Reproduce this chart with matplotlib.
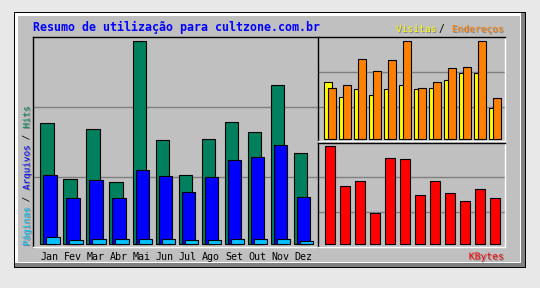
import numpy as np
import matplotlib
matplotlib.use("Agg")
import matplotlib.pyplot as plt
from matplotlib.patches import Rectangle
import matplotlib.patheffects as pe

# ---- data (relative units) ----
months = ["Jan", "Fev", "Mar", "Abr", "Mai", "Jun", "Jul", "Ago", "Set", "Out", "Nov", "Dez"]
hits = [121, 65, 115, 62, 203, 104, 69, 105, 122, 112, 159, 91]
files = [69, 46, 64, 46, 74, 68, 52, 67, 84, 87, 99, 47]
pages = [7, 4, 5, 5, 5, 5, 4, 4, 5, 5, 5, 3]
visits = [57, 42, 50, 44, 50, 54, 50, 51, 59, 66, 66, 31]
sites = [51, 54, 80, 68, 79, 98, 51, 57, 71, 72, 98, 41]
kbytes = [98, 58, 63, 31, 86, 85, 49, 63, 51, 43, 55, 46]

title = "Resumo de utilização para cultzone.com.br"

W, H = 540, 288
fig = plt.figure(figsize=(W / 100, H / 100), dpi=100)
fig.patch.set_facecolor("#e8e8e8")

MONO = "DejaVu Sans Mono"
GRAY = "#c0c0c0"
DARK = "#808080"


def rect(x0, y0, x1, y1, color):
    fig.add_artist(Rectangle((x0 / W, 1 - y1 / H), (x1 - x0) / W, (y1 - y0) / H,
                             transform=fig.transFigure, facecolor=color,
                             edgecolor="none", zorder=0))


# frame
rect(14, 12, 526, 268, "black")
rect(15, 13, 525, 267, DARK)
rect(15, 13, 521, 263, "white")
rect(17.5, 15.5, 520, 262, GRAY)


def panel(x0, y0, x1, y1):
    ax = fig.add_axes([x0 / W, 1 - y1 / H, (x1 - x0) / W, (y1 - y0) / H])
    ax.set_facecolor(GRAY)
    for s in ("top", "left"):
        ax.spines[s].set_color("black")
        ax.spines[s].set_linewidth(1.0)
    for s in ("bottom", "right"):
        ax.spines[s].set_color("white")
        ax.spines[s].set_linewidth(1.0)
    ax.set_xticks([])
    ax.set_yticks([])
    return ax


x = np.arange(len(months))
edge = dict(edgecolor="black", linewidth=0.8, zorder=2)

# main panel
ax = panel(33.3, 37, 318.5, 246.7)
for g in (67.3, 137):
    ax.axhline(g, color=DARK, linewidth=1.0, zorder=0.5)
ax.bar(x - 0.13, hits, width=0.58, color="#00805c", **edge)
ax.bar(x, files, width=0.58, color="#0000ff", **edge)
ax.bar(x + 0.13, pages, width=0.58, color="#00c0ff", **edge)
ax.set_xlim(-0.726, 11.65)
ax.set_ylim(-2.4, 207.3)

# top-right panel
ax2 = panel(318.3, 36.7, 505, 141)
for g in (32, 67):
    ax2.axhline(g, color=DARK, linewidth=1.0, zorder=0.5)
ax2.bar(x - 0.25, visits, width=0.53, color="#ffff00", **edge)
ax2.bar(x, sites, width=0.5, color="#ff8000", **edge)
ax2.set_xlim(-0.913, 11.53)
ax2.set_ylim(-1.7, 102.6)

# bottom-right panel
ax3 = panel(318.3, 142.7, 505, 247.3)
for g in (32, 67):
    ax3.axhline(g, color=DARK, linewidth=1.0, zorder=0.5)
ax3.bar(x, kbytes, width=0.62, color="#ff0000", **edge)
ax3.set_xlim(-0.78, 11.67)
ax3.set_ylim(-3, 101.6)

shadow = [pe.SimplePatchShadow(offset=(0.7, -0.7), shadow_rgbFace=DARK, alpha=1), pe.Normal()]


def ftext(px, py, s, **kw):
    return fig.text(px / W, 1 - py / H, s, **kw)


# title
ftext(33, 31, title, fontsize=8.4, family=MONO, weight="bold", color="#0000ff",
      ha="left", va="baseline")

# legend texts top right
ftext(396, 32, "Visitas", fontsize=6.9, family=MONO, color="#ffff00",
      ha="left", va="baseline", path_effects=shadow)
ftext(441.5, 32, "/", fontsize=6.9, family=MONO, color="black",
      ha="center", va="baseline")
ftext(503.5, 32, "Endereços", fontsize=6.9, family=MONO, color="#ff8000",
      ha="right", va="baseline", path_effects=shadow)

# KBytes
ftext(504, 259.5, "KBytes", fontsize=7.0, family=MONO, color="#ff0000",
      ha="right", va="baseline", path_effects=shadow)

# month labels
for i, m in enumerate(months):
    ftext(50 + 23 * i, 260.3, m, fontsize=7.2, family=MONO, color="black",
          ha="center", va="baseline")

# vertical label
cw = 5.6
pieces = [("Páginas", "#00c0ff", True), (" / ", "black", False),
          ("Arquivos", "#0000ff", True), (" / ", "black", False),
          ("Hits", "#00805c", True)]
pos = 0
for s, c, sh in pieces:
    ybot = 246 - pos * cw
    kw = dict(path_effects=shadow) if sh else {}
    ftext(27, ybot, s, fontsize=6.7, family=MONO, color=c, rotation=90,
          ha="center", va="bottom", **kw)
    pos += len(s)

fig.savefig("out.png", dpi=100, facecolor=fig.get_facecolor())
